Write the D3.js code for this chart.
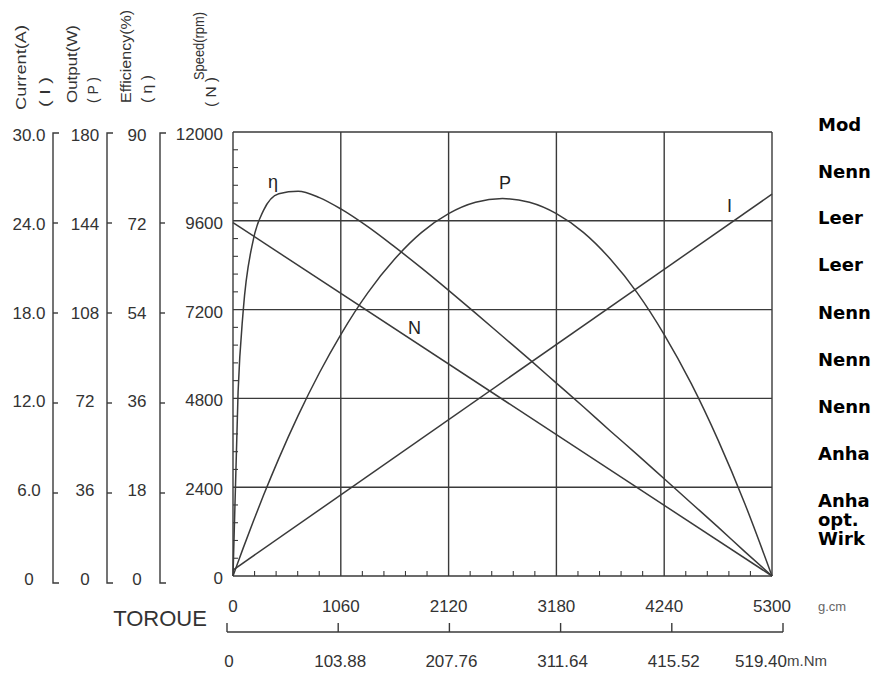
<html lang="en">
<head>
    <meta charset="UTF-8"/>
    <title>Motor characteristic curves</title>
    <script src="https://d3js.org/d3.v7.min.js"></script>
    <style>
        body { margin: 0; background: #fff; }
        svg { display: block; font-family: "Liberation Sans", Arial, sans-serif; }
    </style>
</head>
<body>
    <script>
        // axis tick labels
        var torqueTicks = [0, 1060, 2120, 3180, 4240, 5300];
        var nmTicks = ["0", "103.88", "207.76", "311.64", "415.52", "519.40"];
        var nmValues = [0, 103.88, 207.76, 311.64, 415.52, 519.40];
        var currentTicks = ["0", "6.0", "12.0", "18.0", "24.0", "30.0"];
        var outputTicks = [0, 36, 72, 108, 144, 180];
        var effTicks = [0, 18, 36, 54, 72, 90];
        var speedTicks = [0, 2400, 4800, 7200, 9600, 12000];

        // curves (torque in g.cm)
        var curveTorque = [0, 50, 100, 200, 300, 450, 640, 850, 1060, 1325, 1590, 1855, 2120, 2385, 2650, 2915, 3180, 3445, 3710, 3975, 4240, 4505, 4770, 5035, 5300];
        var efficiency = [0, 37.3, 53.7, 68.2, 74.1, 77.5, 78.0, 76.7, 74.4, 70.8, 66.7, 62.4, 57.9, 53.3, 48.6, 43.9, 39.1, 34.3, 29.4, 24.6, 19.7, 14.8, 9.9, 4.9, 0];
        var output = [0, 5.7, 11.3, 22.2, 32.7, 47.6, 65.0, 82.4, 97.9, 114.8, 128.5, 139.3, 146.9, 151.5, 153.0, 151.5, 146.9, 139.3, 128.5, 114.8, 97.9, 78.1, 55.1, 29.1, 0];
        var lineTorque = [0, 5300];
        var speed = [9550, 0];
        var current = [0.4, 25.8];

        // the spec column is cut by the page edge in the scan; only this much shows
        var specLabels = ["Mod", "Nenn", "Leer", "Leer", "Nenn", "Nenn", "Nenn", "Anha", "Anha", "opt.", "Wirk"];

        var w = 872;
        var h = 675;
        var ink = "#3a3a3a";

        var svg = d3.select("body")
                    .append("svg")
                    .attr("width", w)
                    .attr("height", h);

        svg.append("rect").attr("width", w).attr("height", h).attr("fill", "#fff");

        var xScale = d3.scaleLinear().domain([0, 5300]).range([233, 772]);
        var yScale = d3.scaleLinear().domain([0, 12000]).range([576, 132]);
        var curScale = d3.scaleLinear().domain([0, 30]).range([576, 132]);
        var outScale = d3.scaleLinear().domain([0, 180]).range([576, 132]);
        var effScale = d3.scaleLinear().domain([0, 90]).range([576, 132]);
        // the side scales are drawn a little taller than the grid
        var sideScale = d3.scaleLinear().domain([0, 5]).range([583, 133]);
        var nmScale = d3.scaleLinear().domain([0, 519.40]).range([227, 783]);

        // grid
        var grid = svg.append("g").attr("stroke", ink).attr("stroke-width", 1.4);
        grid.selectAll(".vg")
            .data(torqueTicks)
            .enter()
            .append("line")
            .attr("x1", function(d) { return xScale(d); })
            .attr("x2", function(d) { return xScale(d); })
            .attr("y1", yScale(0))
            .attr("y2", yScale(12000));
        grid.selectAll(".hg")
            .data(speedTicks)
            .enter()
            .append("line")
            .attr("x1", xScale(0))
            .attr("x2", xScale(5300))
            .attr("y1", function(d) { return yScale(d); })
            .attr("y2", function(d) { return yScale(d); });

        // minor ticks inside the frame
        var leftMinor = d3.range(0, 12000, 480).filter(function(d) { return d % 2400 != 0; });
        grid.selectAll(".lm")
            .data(leftMinor)
            .enter()
            .append("line")
            .attr("x1", xScale(0))
            .attr("x2", xScale(0) + 5)
            .attr("y1", function(d) { return yScale(d); })
            .attr("y2", function(d) { return yScale(d); })
            .attr("stroke-width", 1.1);
        var bottomMinor = d3.range(0, 5300, 212).filter(function(d) { return d % 1060 != 0; });
        grid.selectAll(".bm")
            .data(bottomMinor)
            .enter()
            .append("line")
            .attr("x1", function(d) { return xScale(d); })
            .attr("x2", function(d) { return xScale(d); })
            .attr("y1", yScale(0))
            .attr("y2", yScale(0) - 5)
            .attr("stroke-width", 1.1);

        // curves
        var curveLine = function(ys, scale) {
            return d3.line()
                .x(function(d, i) { return xScale(curveTorque[i]); })
                .y(function(d) { return scale(d); })
                .curve(d3.curveMonotoneX)(ys);
        };
        var straight = function(ys, scale) {
            return d3.line()
                .x(function(d, i) { return xScale(lineTorque[i]); })
                .y(function(d) { return scale(d); })(ys);
        };
        var curves = svg.append("g").attr("fill", "none").attr("stroke", ink).attr("stroke-width", 1.5);
        curves.append("path").attr("d", curveLine(efficiency, effScale));
        curves.append("path").attr("d", curveLine(output, outScale));
        curves.append("path").attr("d", straight(speed, yScale));
        curves.append("path").attr("d", straight(current, curScale));

        var curveText = svg.append("g").attr("fill", "#222").attr("font-size", 18);
        curveText.append("text").attr("x", 268).attr("y", 188).text("η");
        curveText.append("text").attr("x", 499).attr("y", 189).text("P");
        curveText.append("text").attr("x", 727).attr("y", 212).text("I");
        curveText.append("text").attr("x", 408).attr("y", 334).text("N");

        // side scales: current, output, efficiency
        var sides = [
            { x: 53, labels: currentTicks, scale: curScale, step: 6, lx: 29 },
            { x: 107, labels: outputTicks, scale: outScale, step: 36, lx: 85 },
            { x: 160, labels: effTicks, scale: effScale, step: 18, lx: 137 }
        ];
        sides.forEach(function(s) {
            var g = svg.append("g").attr("stroke", ink).attr("stroke-width", 1.4).attr("fill", "none");
            g.append("path")
                .attr("d", "M" + (s.x + 6) + "," + sideScale(5) + "H" + s.x + "V" + sideScale(0) + "H" + (s.x + 6));
            g.selectAll("line")
                .data(d3.range(1, 5))
                .enter()
                .append("line")
                .attr("x1", s.x)
                .attr("x2", s.x + 5)
                .attr("y1", function(d) { return sideScale(d); })
                .attr("y2", function(d) { return sideScale(d); });
            svg.append("g")
                .selectAll("text")
                .data(s.labels)
                .enter()
                .append("text")
                .attr("x", s.lx)
                .attr("y", function(d, i) { return s.scale(i * s.step) + 3; })
                .attr("dy", "0.35em")
                .attr("text-anchor", "middle")
                .attr("font-size", 17)
                .attr("fill", "#333")
                .text(function(d) { return d; });
        });

        // speed labels sit on the frame edge
        svg.append("g")
            .selectAll("text")
            .data(speedTicks)
            .enter()
            .append("text")
            .attr("x", 223)
            .attr("y", function(d) { return yScale(d) + 2; })
            .attr("dy", "0.35em")
            .attr("text-anchor", "end")
            .attr("font-size", 17)
            .attr("fill", "#333")
            .text(function(d) { return d; });

        // rotated axis titles
        var titles = [
            { t: "Current(A)", x: 21, y: 110, len: 85 },
            { t: "( I )", x: 45, y: 107, len: 30 },
            { t: "Output(W)", x: 72, y: 103, len: 78 },
            { t: "( P )", x: 93, y: 103, len: 26 },
            { t: "Efficiency(%)", x: 126, y: 103, len: 93 },
            { t: "( η )", x: 147, y: 103, len: 28 },
            { t: "Speed(rpm)", x: 199, y: 80, len: 68 },
            { t: "( N )", x: 211, y: 107, len: 30 }
        ];
        svg.append("g")
            .selectAll("text")
            .data(titles)
            .enter()
            .append("text")
            .attr("transform", function(d) { return "translate(" + d.x + "," + d.y + ") rotate(-90)"; })
            .attr("dy", "0.35em")
            .attr("font-size", 15)
            .attr("fill", "#333")
            .attr("textLength", function(d) { return d.len; })
            .attr("lengthAdjust", "spacingAndGlyphs")
            .text(function(d) { return d.t; });

        // torque labels (g.cm)
        svg.append("g")
            .selectAll("text")
            .data(torqueTicks)
            .enter()
            .append("text")
            .attr("x", function(d) { return xScale(d); })
            .attr("y", 606)
            .attr("dy", "0.35em")
            .attr("text-anchor", "middle")
            .attr("font-size", 17)
            .attr("fill", "#333")
            .text(function(d) { return d; });
        svg.append("text").attr("x", 818).attr("y", 606).attr("dy", "0.35em")
            .attr("font-size", 13).attr("fill", "#666").text("g.cm");
        svg.append("text").attr("x", 160).attr("y", 618).attr("dy", "0.35em")
            .attr("text-anchor", "middle").attr("font-size", 22).attr("fill", "#333").text("TOROUE");

        // second torque scale (m.Nm)
        var nm = svg.append("g").attr("stroke", ink).attr("stroke-width", 1.4);
        nm.append("line")
            .attr("x1", nmScale(0)).attr("x2", nmScale(519.40))
            .attr("y1", 632).attr("y2", 632);
        nm.selectAll(".nt")
            .data(nmValues)
            .enter()
            .append("line")
            .attr("x1", function(d) { return nmScale(d); })
            .attr("x2", function(d) { return nmScale(d); })
            .attr("y1", 632)
            .attr("y2", 623);
        svg.append("g")
            .selectAll("text")
            .data(nmTicks)
            .enter()
            .append("text")
            .attr("x", function(d, i) { return i == 5 ? nmScale(nmValues[i]) + 4 : nmScale(nmValues[i]) + 2; })
            .attr("y", 661)
            .attr("dy", "0.35em")
            .attr("text-anchor", function(d, i) { return i == 5 ? "end" : "middle"; })
            .attr("font-size", 17)
            .attr("fill", "#333")
            .text(function(d) { return d; });
        svg.append("text").attr("x", 787).attr("y", 661).attr("dy", "0.35em")
            .attr("font-size", 15).attr("fill", "#444").text("m.Nm");

        // spec list on the right
        var specY = [125, 172, 218, 265, 313, 360, 407, 454, 501, 520, 539];
        svg.append("g")
            .selectAll("text")
            .data(specLabels)
            .enter()
            .append("text")
            .attr("x", 818)
            .attr("y", function(d, i) { return specY[i]; })
            .attr("dy", "0.35em")
            .attr("font-family", "DejaVu Sans, sans-serif")
            .attr("font-size", 18)
            .attr("font-weight", "bold")
            .attr("fill", "#000")
            .text(function(d) { return d; });
    </script>
</body>
</html>
